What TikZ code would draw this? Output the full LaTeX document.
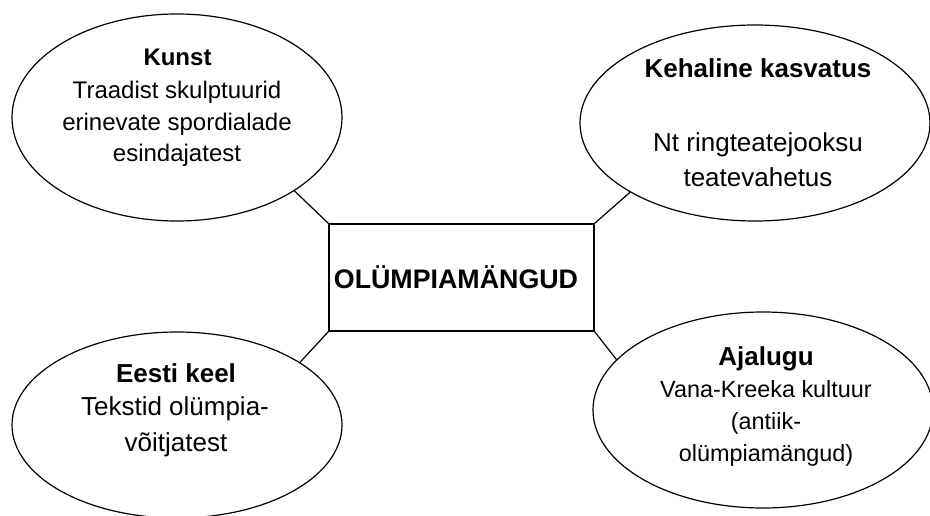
\documentclass[tikz,border=0pt]{standalone}
\usepackage{fontspec}
\setmainfont{Liberation Sans}
\usetikzlibrary{shapes.geometric}
\begin{document}
\begin{tikzpicture}[x=1pt,y=-1pt,
  bubble/.style={draw, ellipse, line width=1.2pt, inner sep=0pt},
  box/.style={draw, rectangle, line width=1.2pt, inner sep=0pt},
  link/.style={line width=1.2pt},
  ln/.style={anchor=base, inner sep=0pt},
  fA/.style={font=\fontsize{24}{24}\selectfont},
  fAb/.style={font=\fontsize{24}{24}\selectfont\bfseries},
  fB/.style={font=\fontsize{26}{26}\selectfont},
  fBb/.style={font=\fontsize{26}{26}\selectfont\bfseries},
  fD/.style={font=\fontsize{26.8}{26.8}\selectfont\bfseries},
  fC/.style={font=\fontsize{23.4}{23.4}\selectfont}]
\useasboundingbox (0,0) rectangle (930,516);
% ellipses
\node[bubble, minimum width=330pt, minimum height=207pt] (kunst) at (177,117.5) {};
\node[bubble, minimum width=350pt, minimum height=196pt] (keha) at (755,123) {};
\node[bubble, minimum width=330pt, minimum height=186pt] (eesti) at (177,425) {};
\node[bubble, minimum width=340pt, minimum height=196pt] (ajal) at (763,410) {};
% centre box
\node[box, minimum width=265pt, minimum height=107pt, fD] (olum) at (461.5,277.5) {OLÜMPIAMÄNGUD\kern11pt};
% connectors
\draw[link] (olum.north west) -- (kunst.-32);
\draw[link] (olum.north east) -- (keha.-151.5);
\draw[link] (olum.south west) -- (eesti.27);
\draw[link] (olum.south east) -- (ajal.161.5);
% Kunst
\node[ln, fAb] (k1) at (177.5,66) {Kunst};
\node[ln, fA] (k2) at (177,99) {Traadist skulptuurid};
\node[ln, fA] (k3) at (177,131) {erinevate spordialade};
\node[ln, fA] (k4) at (177,162) {esindajatest};
% Kehaline kasvatus
\node[ln, fBb] (h1) at (758,78) {Kehaline kasvatus};
\node[ln, fB] (h2) at (758,152) {Nt ringteatejooksu};
\node[ln, fB] (h3) at (758,187) {teatevahetus};
% Eesti keel
\node[ln, fBb] (e1) at (176,382) {Eesti keel};
\node[ln, fB] (e2) at (175,415) {Tekstid olümpia-};
\node[ln, fB] (e3) at (176,451) {võitjatest};
% Ajalugu
\node[ln, fBb] (a1) at (766,365) {Ajalugu};
\node[ln, fC] (a2) at (766,397) {Vana-Kreeka kultuur};
\node[ln, fC] (a3) at (766,429) {(antiik-};
\node[ln, fC] (a4) at (766,461) {olümpiamängud)};
\end{tikzpicture}
\end{document}
